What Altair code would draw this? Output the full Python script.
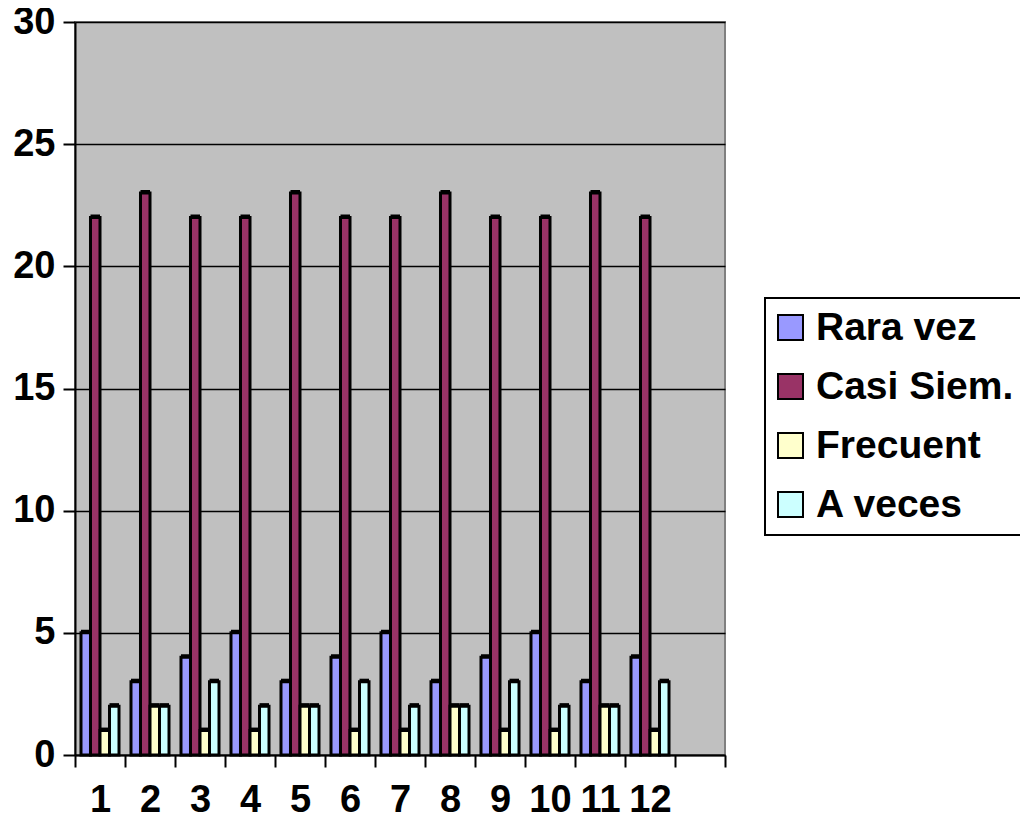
import altair as alt
import pandas as pd

categories = [str(i) for i in range(1, 13)]
x_domain = categories + ["13"]
series = ["Rara vez", "Casi Siem.", "Frecuent", "A veces"]
colors = ["#9999FF", "#993366", "#FFFFCC", "#CCFFFF"]
rara_vez = [5, 3, 4, 5, 3, 4, 5, 3, 4, 5, 3, 4]
casi_siem = [22, 23, 22, 22, 23, 22, 22, 23, 22, 22, 23, 22]
frecuent = [1, 2, 1, 1, 2, 1, 1, 2, 1, 1, 2, 1]
a_veces = [2, 2, 3, 2, 2, 3, 2, 2, 3, 2, 2, 3]
y_ticks = [0, 5, 10, 15, 20, 25, 30]

rows = []
for name, vals in zip(series, [rara_vez, casi_siem, frecuent, a_veces]):
    for c, v in zip(categories, vals):
        rows.append({"cat": c, "serie": name, "val": v})
df = pd.DataFrame(rows)

FONT = "Liberation Sans"

x_enc = alt.X("cat:N", scale=alt.Scale(domain=x_domain, paddingInner=0, paddingOuter=0),
              axis=alt.Axis(title=None, labelAngle=0, labelFontSize=38, labelFontWeight="bold",
                            labelColor="black", labelFont=FONT, tickBand="extent", tickSize=12,
                            tickColor="black", tickWidth=2, domainColor="black", domainWidth=2,
                            labelPadding=14,
                            labelExpr="datum.value == '13' ? '' : datum.label"))
y_enc = alt.Y("val:Q", scale=alt.Scale(domain=[0, 30], nice=False),
              axis=alt.Axis(title=None, values=y_ticks, labelFontSize=38, labelFontWeight="bold",
                            labelColor="black", labelFont=FONT, tickSize=12, tickColor="black",
                            tickWidth=2, domainColor="black", domainWidth=2, labelPadding=8,
                            gridColor="black", gridWidth=1.6, gridOpacity=1))
xoff_enc = alt.XOffset("serie:N", scale=alt.Scale(domain=series, paddingInner=0,
                                                   paddingOuter=0.63))

shadow = alt.Chart(df).mark_bar(color="black", yOffset=-3).encode(
    x=x_enc, xOffset=xoff_enc, y=y_enc,
)

bars = alt.Chart(df).mark_bar(stroke="black", strokeWidth=3).encode(
    x=x_enc, xOffset=xoff_enc, y=y_enc,
    color=alt.Color("serie:N", scale=alt.Scale(domain=series, range=colors),
                    legend=alt.Legend(title=None, orient="none", legendX=690, legendY=276,
                                      strokeColor="black", fillColor="white", padding=10,
                                      symbolType="square", symbolSize=625, symbolOffset=-4,
                                      symbolStrokeColor="black", symbolStrokeWidth=2,
                                      symbolOpacity=1,
                                      labelFontSize=39, labelFontWeight="bold", labelFont=FONT,
                                      labelColor="black", rowPadding=19, labelOffset=6,
                                      labelLimit=400)),
)

chart = alt.layer(shadow, bars).properties(
    width=650, height=733,
    autosize=alt.AutoSizeParams(type="none"),
    padding={"left": 67, "top": 14, "right": 295, "bottom": 64},
    background="white",
).configure_view(fill="#C0C0C0", stroke="#808080", strokeWidth=2).configure_legend(
    strokeWidth=2
)

chart.save("out.html", embed_options={"renderer": "svg", "actions": False})
